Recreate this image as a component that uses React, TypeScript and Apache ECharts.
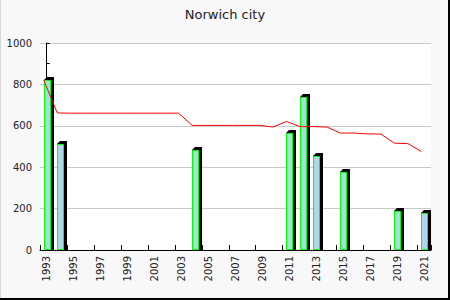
import React, { useEffect, useRef } from "react";
import * as echarts from "echarts";

const years: string[] = [
  "1993", "1994", "1995", "1996", "1997", "1998", "1999", "2000", "2001", "2002",
  "2003", "2004", "2005", "2006", "2007", "2008", "2009", "2010", "2011", "2012",
  "2013", "2014", "2015", "2016", "2017", "2018", "2019", "2020", "2021",
];

const barValues: (number | null)[] = [
  820, 510, null, null, null, null, null, null, null, null,
  null, 485, null, null, null, null, null, null, 565, 740,
  455, null, 375, null, null, null, 190, null, 180,
];

const lineValues: number[] = [
  820, 662, 661, 661, 661, 661, 661, 661, 661, 661,
  661, 602, 602, 602, 602, 602, 602, 594, 621, 596,
  596, 594, 565, 565, 561, 560, 516, 514, 476,
];

const yTicks = { min: 0, max: 1000, interval: 200 };

export default function App() {
  const ref = useRef<HTMLDivElement>(null);

  useEffect(() => {
    if (!ref.current) return;
    const chart = echarts.init(ref.current, undefined, { renderer: "svg" });

    const barData = barValues
      .map((v, i) => (v == null ? null : [i, v]))
      .filter((d) => d !== null);
    const lineData = lineValues.map((v, i) => [i - 0.22, v]);

    chart.setOption({
      animation: false,
      backgroundColor: "#f8f8f8",
      textStyle: { fontFamily: "DejaVu Sans" },
      title: {
        text: "Norwich city",
        left: "center",
        top: 3,
        textStyle: { fontSize: 13, fontWeight: "normal", color: "#222", fontFamily: "DejaVu Sans" },
      },
      grid: {
        left: 40,
        right: 19,
        top: 43,
        bottom: 50,
        show: true,
        backgroundColor: "#ffffff",
        borderWidth: 0,
      },
      xAxis: [
        {
          type: "category",
          data: years,
          boundaryGap: true,
          axisLine: { show: true, lineStyle: { color: "#000", width: 1 } },
          axisTick: { show: true, inside: true, length: 5, interval: 1, lineStyle: { color: "#000" } },
          axisLabel: { rotate: 90, interval: 1, fontSize: 10, color: "#222", margin: 6 },
          splitLine: { show: false },
        },
        {
          type: "value",
          min: -0.5,
          max: 28.5,
          show: false,
        },
      ],
      yAxis: {
        type: "value",
        min: yTicks.min,
        max: yTicks.max,
        interval: yTicks.interval,
        axisLine: { show: true, lineStyle: { color: "#000", width: 1 } },
        axisTick: { show: true, inside: true, length: 3, lineStyle: { color: "#000" } },
        minorTick: { show: true, splitNumber: 2, length: 3, lineStyle: { color: "#000" } },
        axisLabel: { fontSize: 10, color: "#222", margin: 8, formatter: (v: number) => String(v) },
        splitLine: { show: true, lineStyle: { color: "#c8c8c8", width: 1 } },
      },
      series: [
        {
          type: "custom",
          xAxisIndex: 0,
          yAxisIndex: 0,
          data: barData,
          renderItem: (params: any, api: any) => {
            const idx = api.value(0);
            const v = api.value(1);
            const top = api.coord([idx, v]);
            const bottom = api.coord([idx, 0]);
            const w = 7;
            const left = Math.round(top[0] - 3);
            const right = left + w;
            const t = Math.round(top[1]);
            const b = Math.round(bottom[1]);
            return {
              type: "group",
              children: [
                {
                  type: "polygon",
                  shape: {
                    points: [
                      [left, t],
                      [left + 3, t - 3],
                      [right + 3, t - 3],
                      [right + 3, b],
                      [right, b],
                    ],
                  },
                  style: { fill: "#000" },
                },
                {
                  type: "rect",
                  shape: { x: left + 0.5, y: t + 0.5, width: w - 1, height: b - t - 1 },
                  style: { fill: "#add8e6", stroke: "#00ff00", lineWidth: 1 },
                },
              ],
            };
          },
          z: 2,
        },
        {
          type: "line",
          xAxisIndex: 1,
          yAxisIndex: 0,
          data: lineData,
          symbol: "none",
          lineStyle: { color: "#ff0000", width: 1 },
          z: 3,
        },
      ],
      graphic: [
        { type: "rect", shape: { x: 448, y: 0, width: 2, height: 300 }, style: { fill: "#000" } },
        { type: "rect", shape: { x: 0, y: 298, width: 450, height: 2 }, style: { fill: "#000" } },
        { type: "rect", shape: { x: 0, y: 0, width: 1, height: 298 }, style: { fill: "#d8d8d8" } },
      ],
    });

    return () => chart.dispose();
  }, []);

  return (
    <div
      ref={ref}
      style={{ position: "absolute", left: 0, top: 0, width: 450, height: 300 }}
    />
  );
}
